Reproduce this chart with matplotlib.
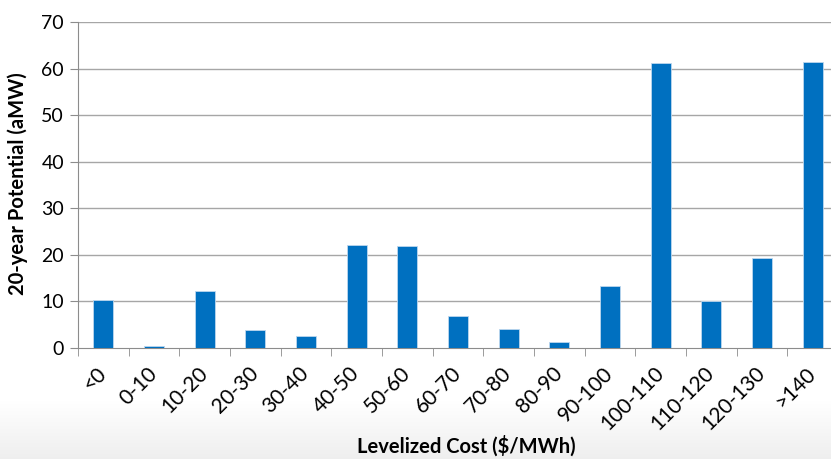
import numpy as np
import matplotlib.pyplot as plt

categories = ["<0", "0-10", "10-20", "20-30", "30-40", "40-50", "50-60", "60-70",
              "70-80", "80-90", "90-100", "100-110", "110-120", "120-130", ">140"]
potential = [10.2, 0.4, 12.2, 3.9, 2.5, 22.1, 21.8, 6.9,
             4.0, 1.2, 13.4, 61.3, 10.0, 19.4, 61.5]
y_ticks = [0, 10, 20, 30, 40, 50, 60, 70]

plt.rcParams['font.family'] = ['Lato', 'DejaVu Sans']

fig = plt.figure(figsize=(8.31, 4.59), dpi=100)

# soft grey band along the bottom of the slide
bg = fig.add_axes([0, 0, 1, 1], zorder=-10)
shade = np.ones(459)
shade[400:] = np.linspace(1.0, 0.91, 59) ** 0.7
bg.imshow(np.repeat(shade[:, None, None], 3, axis=2), aspect='auto',
          extent=[0, 1, 0, 1], origin='upper')
bg.axis('off')

# plot area runs past the right edge of the picture (cropped slide);
# horizontal rules are drawn only up to the picture edge
ax = fig.add_axes([78 / 831, 1 - 348 / 459, 760 / 831, 326 / 459])
ax.patch.set_alpha(0)
x = np.arange(len(categories))
ax.bar(x, potential, width=0.4, color='#0070C0', edgecolor='#BDD7EE',
       linewidth=0.6, zorder=3)

ax.set_xlim(-0.5, len(categories) - 0.5)
ax.set_ylim(0, 70)
ax.set_yticks(y_ticks)
x_edge = -0.5 + len(categories) * (753 / 760)
for yv in y_ticks[1:]:
    ax.hlines(yv, -0.5, x_edge, color='#A6A6A6', linewidth=1.0, zorder=1)

ax.set_xticks(x)
ax.set_xticklabels(categories, rotation=45, ha='right', va='center',
                   rotation_mode='anchor', fontsize=15)
ax.tick_params(axis='x', length=0, pad=16)
ax.set_xticks(np.arange(-0.5, len(categories)), minor=True)
ax.tick_params(axis='x', which='minor', length=6, color='#8C8C8C')
ax.tick_params(axis='y', length=6, color='#8C8C8C', labelsize=14, pad=4)

for s in ['top', 'right']:
    ax.spines[s].set_visible(False)
for s in ['left', 'bottom']:
    ax.spines[s].set_color('#8C8C8C')

fig.text(18 / 831, 1 - 184 / 459, "20-year Potential (aMW)", rotation=90,
         ha='center', va='center', fontsize=14.5, fontweight='bold')
fig.text(466 / 831, 1 - 446 / 459, "Levelized Cost ($/MWh)",
         ha='center', va='center', fontsize=14.5, fontweight='bold')

fig.savefig('out.png', dpi=100)
